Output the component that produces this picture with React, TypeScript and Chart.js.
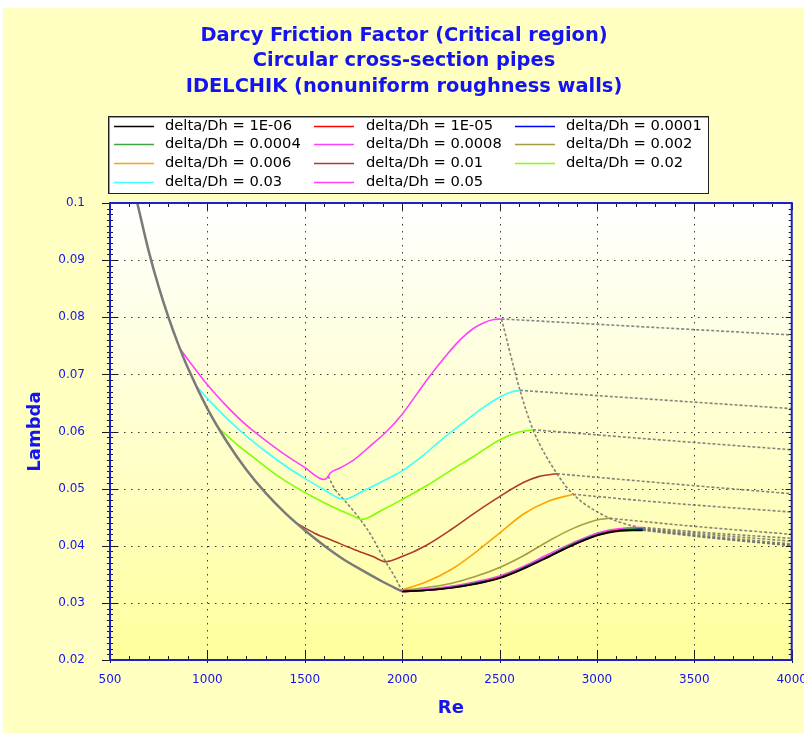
import React, { useEffect, useRef } from "react";
import { Chart, registerables } from "chart.js";

Chart.register(...registerables);

// ---------- text ----------
const TITLE_LINES = [
  "Darcy Friction Factor (Critical region)",
  "Circular cross-section pipes",
  "IDELCHIK (nonuniform roughness walls)",
];
const X_TITLE = "Re";
const Y_TITLE = "Lambda";

const X_MIN = 500;
const X_MAX = 4000;
const X_STEP = 500;
const X_MINOR = 100;
const Y_MIN = 0.02;
const Y_MAX = 0.1;
const Y_STEP = 0.01;
const Y_MINOR = 0.001;

const seriesLabels = [
  "delta/Dh = 1E-06",
  "delta/Dh = 1E-05",
  "delta/Dh = 0.0001",
  "delta/Dh = 0.0004",
  "delta/Dh = 0.0008",
  "delta/Dh = 0.002",
  "delta/Dh = 0.006",
  "delta/Dh = 0.01",
  "delta/Dh = 0.02",
  "delta/Dh = 0.03",
  "delta/Dh = 0.05",
];
const seriesColors = [
  "#000000",
  "#FF0000",
  "#0000FF",
  "#3FA540",
  "#FF40FF",
  "#A0A040",
  "#FFA500",
  "#B03A2E",
  "#80FF00",
  "#40FFFF",
  "#FF40FF",
];

// ---------- laminar line (gray) ----------
const reLaminar = [640, 700, 750, 800, 850, 900, 1000, 1100, 1200, 1300, 1400, 1500, 1600, 1700, 1800, 1900, 2000];
const lambdaLaminar = [0.1, 0.0914, 0.0853, 0.08, 0.0753, 0.0711, 0.064, 0.0582, 0.0533, 0.0492, 0.0457, 0.0427, 0.04, 0.0376, 0.0356, 0.0337, 0.032];

// ---------- critical region (colored) ----------
const reSmall = [2000, 2125, 2250, 2375, 2500, 2625, 2750, 2875, 3000, 3060, 3120, 3180, 3235];
const lambda1e6 = [0.032, 0.0322, 0.0326, 0.0333, 0.0343, 0.036, 0.038, 0.0401, 0.0418, 0.0423, 0.0426, 0.0427, 0.0427];
const lambda1e5 = [0.032, 0.0322, 0.0326, 0.0333, 0.0344, 0.036, 0.0381, 0.0401, 0.0418, 0.0424, 0.0427, 0.0428, 0.0428];
const lambda1e4 = [0.032, 0.0322, 0.0327, 0.0334, 0.0344, 0.0361, 0.0381, 0.0402, 0.0419, 0.0424, 0.0427, 0.0428, 0.0429];
const lambda4e4 = [0.032, 0.0323, 0.0327, 0.0335, 0.0345, 0.0362, 0.0382, 0.0403, 0.042, 0.0425, 0.0428, 0.043, 0.043];
const lambda8e4 = [0.0321, 0.0324, 0.0329, 0.0337, 0.0347, 0.0364, 0.0385, 0.0405, 0.0422, 0.0427, 0.043, 0.0432, 0.0432];

const re2e3 = [2000, 2125, 2250, 2375, 2500, 2625, 2750, 2875, 3000, 3066];
const lambda2e3 = [0.0322, 0.0327, 0.0334, 0.0346, 0.0362, 0.0383, 0.0408, 0.043, 0.0445, 0.0448];

const re6e3 = [2000, 2125, 2250, 2375, 2500, 2625, 2750, 2878];
const lambda6e3 = [0.0323, 0.0337, 0.0358, 0.0388, 0.0422, 0.0456, 0.0478, 0.049];

const re1e2 = [1455, 1550, 1650, 1750, 1850, 1915, 2000, 2125, 2250, 2375, 2500, 2625, 2700, 2795];
const lambda1e2 = [0.044, 0.0422, 0.0408, 0.0394, 0.0381, 0.0372, 0.0381, 0.0401, 0.0428, 0.0458, 0.0486, 0.0511, 0.0521, 0.0526];

const re2e2 = [1060, 1150, 1250, 1350, 1450, 1550, 1650, 1750, 1790, 1900, 2000, 2125, 2250, 2375, 2500, 2600, 2672];
const lambda2e2 = [0.0605, 0.0578, 0.0551, 0.0525, 0.0503, 0.0484, 0.0467, 0.0452, 0.0446, 0.0463, 0.0481, 0.0505, 0.0532, 0.0558, 0.0585, 0.0599, 0.0603];

const re3e2 = [945, 1000, 1100, 1200, 1300, 1400, 1500, 1600, 1700, 1800, 1900, 2000, 2100, 2200, 2300, 2400, 2500, 2560, 2605];
const lambda3e2 = [0.0679, 0.0658, 0.0623, 0.0592, 0.0565, 0.054, 0.0518, 0.0498, 0.0481, 0.0496, 0.0513, 0.0531, 0.0556, 0.0585, 0.0612, 0.0638, 0.066, 0.0669, 0.0672];

const re5e2 = [862, 900, 1000, 1100, 1200, 1300, 1400, 1500, 1600, 1615, 1630, 1680, 1750, 1834, 1920, 1997, 2074, 2142, 2228, 2296, 2360, 2416, 2470, 2510];
const lambda5e2 = [0.0744, 0.0726, 0.0682, 0.0644, 0.0611, 0.0584, 0.0559, 0.0537, 0.0516, 0.0519, 0.0527, 0.0536, 0.055, 0.0574, 0.06, 0.0629, 0.0665, 0.0697, 0.0734, 0.076, 0.0779, 0.079, 0.0796, 0.0797];

// ---------- turbulent continuation (gray dashed) ----------
const reTurbSmall = [3235, 3600, 4000];
const turb1e6 = [0.0427, 0.0413, 0.04];
const turb1e5 = [0.0428, 0.0414, 0.0401];
const turb1e4 = [0.0429, 0.0416, 0.0403];
const turb4e4 = [0.043, 0.0419, 0.0408];
const turb8e4 = [0.0432, 0.0422, 0.0413];
const reTurb2e3 = [3066, 3500, 4000];
const turb2e3 = [0.0448, 0.0434, 0.042];
const reTurb6e3 = [2878, 3400, 4000];
const turb6e3 = [0.049, 0.0474, 0.0459];
const reTurb1e2 = [2795, 3400, 4000];
const turb1e2 = [0.0526, 0.0508, 0.0491];
const reTurb2e2 = [2672, 3300, 4000];
const turb2e2 = [0.0603, 0.0586, 0.0568];
const reTurb3e2 = [2605, 3300, 4000];
const turb3e2 = [0.0672, 0.0656, 0.064];
const reTurb5e2 = [2510, 3200, 4000];
const turb5e2 = [0.0797, 0.0784, 0.0769];

// ---------- boundaries of the critical region (gray dashed) ----------
const reLowerBound = [1620, 1653, 1700, 1785, 1841, 1915, 1960, 2000];
const lambdaLowerBound = [0.0522, 0.05, 0.0481, 0.0446, 0.0418, 0.0372, 0.0347, 0.032];
const reUpperBound = [2510, 2605, 2672, 2795, 2878, 3066, 3235];
const lambdaUpperBound = [0.0797, 0.0672, 0.0603, 0.0526, 0.049, 0.0448, 0.043];

const criticalRe = [reSmall, reSmall, reSmall, reSmall, reSmall, re2e3, re6e3, re1e2, re2e2, re3e2, re5e2];
const criticalLambda = [lambda1e6, lambda1e5, lambda1e4, lambda4e4, lambda8e4, lambda2e3, lambda6e3, lambda1e2, lambda2e2, lambda3e2, lambda5e2];
const turbRe = [reTurbSmall, reTurbSmall, reTurbSmall, reTurbSmall, reTurbSmall, reTurb2e3, reTurb6e3, reTurb1e2, reTurb2e2, reTurb3e2, reTurb5e2];
const turbLambda = [turb1e6, turb1e5, turb1e4, turb4e4, turb8e4, turb2e3, turb6e3, turb1e2, turb2e2, turb3e2, turb5e2];

// ---------- styling ----------
const OUTER_BG = "#FFFFC2";
const BLUE_TEXT = "#1414F0";
const FRAME_BLUE = "#1E1ED2";
const GRAY = "#7A7A7A";
const FONT = '"DejaVu Sans", "Liberation Sans", Arial, sans-serif';
const SHIFT = 5; // canvas starts this many px left of the body margin

const pts = (xs: number[], ys: number[]) => xs.map((x, i) => ({ x, y: ys[i] }));

function buildDatasets() {
  const ds: any[] = [];
  seriesLabels.forEach((label, i) => {
    ds.push({
      label,
      data: pts(criticalRe[i], criticalLambda[i]),
      borderColor: seriesColors[i],
      borderWidth: 1.6,
      cubicInterpolationMode: "monotone",
      pointRadius: 0,
      fill: false,
      order: 1,
    });
  });
  const dashed = (data: any[]) => ({
    label: "_",
    data,
    borderColor: "rgba(110,110,110,0.85)",
    borderWidth: 1.6,
    borderDash: [3, 2],
    cubicInterpolationMode: "monotone",
    pointRadius: 0,
    fill: false,
    order: 2,
  });
  turbRe.forEach((r, i) => ds.push(dashed(pts(r, turbLambda[i]))));
  ds.push(dashed(pts(reLowerBound, lambdaLowerBound)));
  ds.push(dashed(pts(reUpperBound, lambdaUpperBound)));
  ds.push({
    label: "_",
    data: pts(reLaminar, lambdaLaminar),
    borderColor: GRAY,
    borderWidth: 2.5,
    cubicInterpolationMode: "monotone",
    pointRadius: 0,
    fill: false,
    order: 0,
  });
  return ds;
}

const decorPlugin = {
  id: "decor",
  beforeDraw(chart: any) {
    const { ctx, chartArea: a, width, height } = chart;
    const xs = chart.scales.x;
    const ys = chart.scales.y;
    ctx.save();
    ctx.fillStyle = OUTER_BG;
    ctx.fillRect(0, 0, width, height);
    const g = ctx.createLinearGradient(0, a.top, 0, a.bottom);
    g.addColorStop(0, "#FFFFFF");
    g.addColorStop(1, "#FFFF9C");
    ctx.fillStyle = g;
    ctx.fillRect(a.left, a.top, a.right - a.left, a.bottom - a.top);
    // dotted grid
    ctx.strokeStyle = "#3A3A3A";
    ctx.lineWidth = 1;
    ctx.setLineDash([1.5, 5.5]);
    for (const t of xs.ticks) {
      const px = Math.round(xs.getPixelForValue(t.value)) + 0.5;
      if (px <= a.left + 1 || px >= a.right - 1) continue;
      ctx.beginPath();
      ctx.moveTo(px, a.top);
      ctx.lineTo(px, a.bottom);
      ctx.stroke();
    }
    for (const t of ys.ticks) {
      const py = Math.round(ys.getPixelForValue(t.value)) + 0.5;
      if (py <= a.top + 1 || py >= a.bottom - 1) continue;
      ctx.beginPath();
      ctx.moveTo(a.left, py);
      ctx.lineTo(a.right, py);
      ctx.stroke();
    }
    ctx.restore();
  },
  afterDatasetsDraw(chart: any) {
    const { ctx, chartArea: a } = chart;
    const xs = chart.scales.x;
    const ys = chart.scales.y;
    ctx.save();
    // tick marks
    ctx.strokeStyle = "#1A1A1A";
    ctx.lineWidth = 1;
    ctx.setLineDash([]);
    const nX = Math.round((X_MAX - X_MIN) / X_MINOR);
    const perX = Math.round(X_STEP / X_MINOR);
    for (let k = 0; k <= nX; k++) {
      const v = X_MIN + k * X_MINOR;
      const major = k % perX === 0;
      const px = Math.round(xs.getPixelForValue(v)) + 0.5;
      ctx.beginPath();
      ctx.moveTo(px, a.bottom + (major ? 3 : 0));
      ctx.lineTo(px, a.bottom - (major ? 10 : 4));
      ctx.moveTo(px, a.top);
      ctx.lineTo(px, a.top + (major ? 7 : 4));
      ctx.stroke();
    }
    const nY = Math.round((Y_MAX - Y_MIN) / Y_MINOR);
    const perY = Math.round(Y_STEP / Y_MINOR);
    for (let k = 0; k <= nY; k++) {
      const major = k % perY === 0;
      const v = Y_MIN + k * Y_MINOR;
      const py = Math.round(ys.getPixelForValue(v)) + 0.5;
      ctx.beginPath();
      ctx.moveTo(a.left - (major ? 8 : 3), py);
      ctx.lineTo(a.left + (major ? 8 : 3), py);
      ctx.moveTo(a.right, py);
      ctx.lineTo(a.right - (major ? 6 : 3), py);
      ctx.stroke();
    }
    // blue frame
    ctx.strokeStyle = FRAME_BLUE;
    ctx.lineWidth = 2;
    ctx.strokeRect(a.left, a.top, a.right - a.left, a.bottom - a.top);
    ctx.restore();
  },
  afterDraw(chart: any) {
    const { ctx } = chart;
    ctx.save();
    // title
    ctx.fillStyle = BLUE_TEXT;
    ctx.font = `bold 19.4px ${FONT}`;
    ctx.textAlign = "center";
    ctx.textBaseline = "middle";
    const titleY = [28, 53, 79];
    TITLE_LINES.forEach((t, i) => ctx.fillText(t, 396 + SHIFT, titleY[i]));
    // legend box
    const bx = 100 + SHIFT, by = 108, bw = 601, bh = 78;
    ctx.fillStyle = "#FFFFFF";
    ctx.fillRect(bx, by, bw, bh);
    ctx.strokeStyle = "#9A9A9A";
    ctx.lineWidth = 1;
    ctx.strokeRect(bx + 1.5, by + 1.5, bw - 2, bh - 2);
    ctx.strokeStyle = "#202020";
    ctx.strokeRect(bx + 0.5, by + 0.5, bw - 1, bh - 1);
    const colLine = [106, 306, 507].map((v) => v + SHIFT);
    const colText = [157, 358, 558].map((v) => v + SHIFT);
    const rowY = [118, 136, 155, 174];
    ctx.font = `14.7px ${FONT}`;
    ctx.textAlign = "left";
    seriesLabels.forEach((label, i) => {
      const c = i % 3;
      const r = Math.floor(i / 3);
      const y = rowY[r];
      ctx.strokeStyle = seriesColors[i];
      ctx.lineWidth = 1.6;
      ctx.beginPath();
      ctx.moveTo(colLine[c], y + 0.5);
      ctx.lineTo(colLine[c] + 40, y + 0.5);
      ctx.stroke();
      ctx.fillStyle = "#000000";
      ctx.fillText(label, colText[c], y);
    });
    ctx.restore();
  },
};

export default function App() {
  const ref = useRef<HTMLCanvasElement | null>(null);
  useEffect(() => {
    if (!ref.current) return;
    const chart = new Chart(ref.current, {
      type: "line",
      data: { datasets: buildDatasets() },
      options: {
        responsive: false,
        devicePixelRatio: 1,
        animation: false,
        layout: { padding: { top: 195, right: 28, left: 0, bottom: 0 } },
        plugins: {
          legend: { display: false },
          title: { display: false },
          tooltip: { enabled: false },
        },
        elements: { point: { radius: 0 } },
        scales: {
          x: {
            type: "linear",
            min: X_MIN,
            max: X_MAX,
            grid: { display: false, drawTicks: false },
            border: { display: false },
            ticks: {
              stepSize: X_STEP,
              padding: 13,
              color: BLUE_TEXT,
              font: { family: FONT, size: 12 },
              maxRotation: 0,
              callback: (v: any) => String(v),
            },
            title: {
              display: true,
              text: X_TITLE,
              color: BLUE_TEXT,
              font: { family: FONT, size: 18, weight: "bold" },
              padding: { top: 0, bottom: 14 },
            },
            afterFit(s: any) {
              s.height = 73;
            },
          },
          y: {
            type: "linear",
            min: Y_MIN,
            max: Y_MAX,
            grid: { display: false, drawTicks: false },
            border: { display: false },
            ticks: {
              stepSize: Y_STEP,
              padding: 25,
              color: BLUE_TEXT,
              font: { family: FONT, size: 12 },
              callback: (v: any) => String(+Number(v).toFixed(2)),
            },
            title: {
              display: true,
              text: Y_TITLE,
              color: BLUE_TEXT,
              font: { family: FONT, size: 18, weight: "bold" },
              padding: { top: 17 + SHIFT, bottom: 0 },
            },
            afterFit(s: any) {
              s.width = 102 + SHIFT;
            },
          },
        },
      } as any,
      plugins: [decorPlugin],
    });
    return () => chart.destroy();
  }, []);
  const W = 812 + SHIFT;
  return (
    <div style={{ position: "fixed", left: 8 - SHIFT, top: 8, width: W, height: 725, overflow: "hidden" }}>
      <canvas ref={ref} width={W} height={725} style={{ display: "block", width: W, height: 725 }} />
    </div>
  );
}
